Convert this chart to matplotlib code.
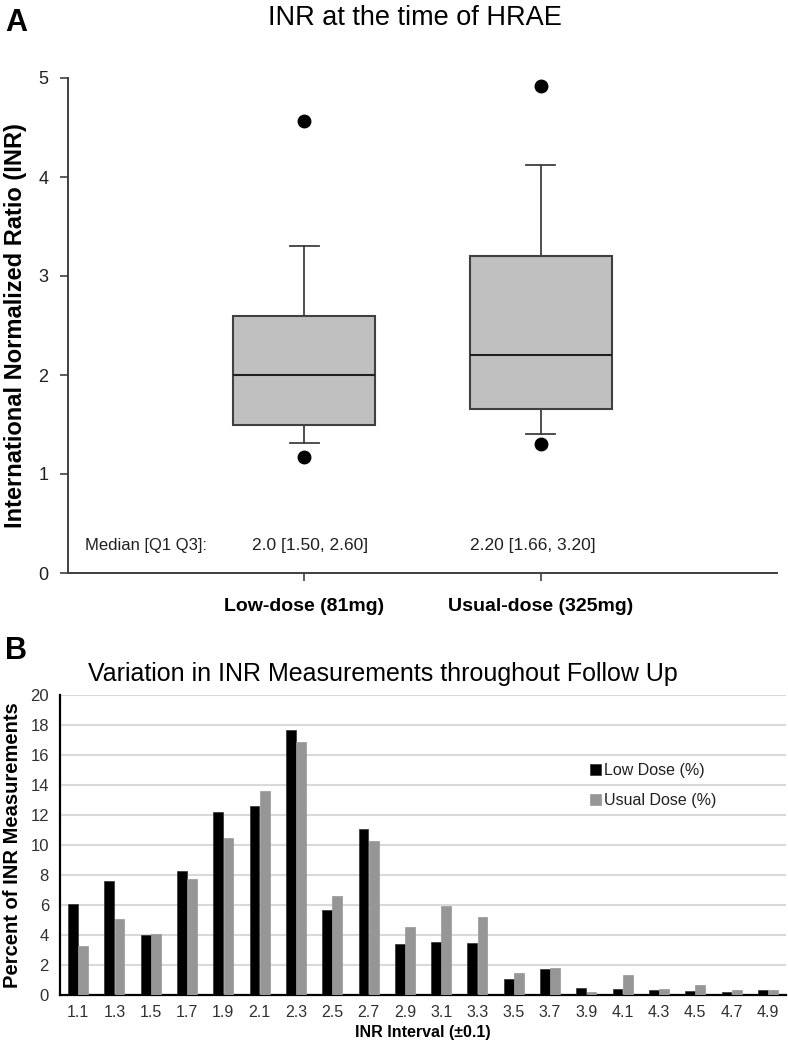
import matplotlib
matplotlib.use('Agg')
import matplotlib.pyplot as plt
import numpy as np

plt.rcParams['font.family'] = ['Liberation Sans', 'DejaVu Sans']

# panel A: INR at the time of HRAE
groups = ['Low-dose (81mg)', 'Usual-dose (325mg)']
medians = [2.0, 2.2]
q1 = [1.50, 1.66]
q3 = [2.60, 3.20]
whis_lo = [1.31, 1.40]
whis_hi = [3.30, 4.12]
outliers = [[1.17, 4.57], [1.30, 4.92]]
summary = ['2.0 [1.50, 2.60]', '2.20 [1.66, 3.20]']

# panel B: distribution of INR measurements
intervals = ['1.1', '1.3', '1.5', '1.7', '1.9', '2.1', '2.3', '2.5', '2.7', '2.9',
             '3.1', '3.3', '3.5', '3.7', '3.9', '4.1', '4.3', '4.5', '4.7', '4.9']
low_dose = [6.1, 7.6, 4.0, 8.3, 12.2, 12.6, 17.7, 5.7, 11.1, 3.4,
            3.55, 3.5, 1.1, 1.75, 0.5, 0.42, 0.35, 0.27, 0.2, 0.35]
usual_dose = [3.3, 5.1, 4.1, 7.75, 10.5, 13.6, 16.85, 6.6, 10.3, 4.55,
              5.95, 5.2, 1.45, 1.8, 0.22, 1.35, 0.4, 0.7, 0.33, 0.33]

fig = plt.figure(figsize=(7.88, 10.5), dpi=100)
W, H = 788, 1050

def px_axes(left, top, right, bottom):
    return fig.add_axes([left / W, 1 - bottom / H, (right - left) / W, (bottom - top) / H])

# ---------------- panel A ----------------
ax1 = px_axes(68, 78, 777, 573)
edge = '#404040'
stats = []
for i in range(len(groups)):
    stats.append(dict(med=medians[i], q1=q1[i], q3=q3[i], whislo=whis_lo[i],
                      whishi=whis_hi[i], fliers=outliers[i], label=groups[i]))
ax1.bxp(stats, positions=[1, 2], widths=0.6, patch_artist=True,
        boxprops=dict(facecolor='#c0c0c0', edgecolor=edge, linewidth=1.5),
        medianprops=dict(color='#202020', linewidth=1.5),
        whiskerprops=dict(color=edge, linewidth=1.3),
        capprops=dict(color=edge, linewidth=1.3),
        capwidths=0.12,
        flierprops=dict(marker='o', markerfacecolor='black', markeredgecolor='black',
                        markersize=9))
ax1.set_xlim(0, 3)
ax1.set_ylim(0, 5)
ax1.set_yticks([0, 1, 2, 3, 4, 5])
ax1.set_xticks([1, 2])
ax1.set_xticklabels(groups, fontweight='bold', fontsize=14,
                    family=['Liberation Sans Narrow', 'Liberation Sans'])
ax1.tick_params(axis='x', length=6, width=1.2, color=edge, pad=12)
ax1.tick_params(axis='y', length=6, width=1.2, color=edge, labelsize=13, labelcolor='#202020', pad=8)
for s in ['top', 'right']:
    ax1.spines[s].set_visible(False)
for s in ['left', 'bottom']:
    ax1.spines[s].set_color(edge)
    ax1.spines[s].set_linewidth(1.4)
ax1.set_ylabel('International Normalized Ratio (INR)', fontweight='bold', fontsize=17, labelpad=8)
ax1.set_title('INR at the time of HRAE', fontsize=19.5, pad=38, x=0.49)
ax1.text(0.07, 0.28, 'Median [Q1 Q3]:', fontsize=12, color='#202020', va='center')
ax1.text(0.78, 0.28, summary[0], fontsize=12.5, color='#202020', va='center')
ax1.text(1.70, 0.28, summary[1], fontsize=12.5, color='#202020', va='center')
fig.text(5 / W, 1 - 8 / H, 'A', fontsize=22, fontweight='bold', va='top')

# ---------------- panel B ----------------
ax2 = px_axes(60, 695, 786, 995)
x = np.arange(len(intervals))
ax2.bar(x - 0.14, low_dose, width=0.27, color='black', edgecolor='#303030', linewidth=0.5,
        label='Low Dose (%)', zorder=3)
ax2.bar(x + 0.14, usual_dose, width=0.27, color='#969696', edgecolor='#969696', linewidth=0.5,
        label='Usual Dose (%)', zorder=3)
ax2.set_xlim(-0.5, len(intervals) - 0.5)
ax2.set_ylim(0, 20)
ax2.set_yticks(np.arange(0, 21, 2))
ax2.set_xticks(x)
ax2.set_xticklabels(intervals, fontsize=11.5, color='#303030')
ax2.tick_params(axis='x', length=0, pad=7)
ax2.tick_params(axis='y', length=0, labelsize=12, labelcolor='#303030', pad=8)
ax2.grid(axis='y', color='#d9d9d9', linewidth=1.5, zorder=0)
ax2.set_axisbelow(True)
for s in ['top', 'right']:
    ax2.spines[s].set_visible(False)
for s in ['left', 'bottom']:
    ax2.spines[s].set_color('black')
    ax2.spines[s].set_linewidth(1.6)
ax2.set_ylabel('Percent of INR Measurements', fontweight='bold', fontsize=14.5, labelpad=6)
ax2.set_xlabel('INR Interval (\u00b10.1)', fontweight='bold', fontsize=11.5, labelpad=4)
ax2.set_title('Variation in INR Measurements throughout Follow Up', fontsize=18, pad=10, x=0.445)
ax2.legend(loc='upper left', bbox_to_anchor=(0.71, 0.82), frameon=False, fontsize=11.5,
           handlelength=0.7, handleheight=0.7, handletextpad=0.2, labelspacing=0.9,
           labelcolor='#202020')
fig.text(5 / W, 1 - 636 / H, 'B', fontsize=22, fontweight='bold', va='top')

fig.savefig('out.png', dpi=100)
